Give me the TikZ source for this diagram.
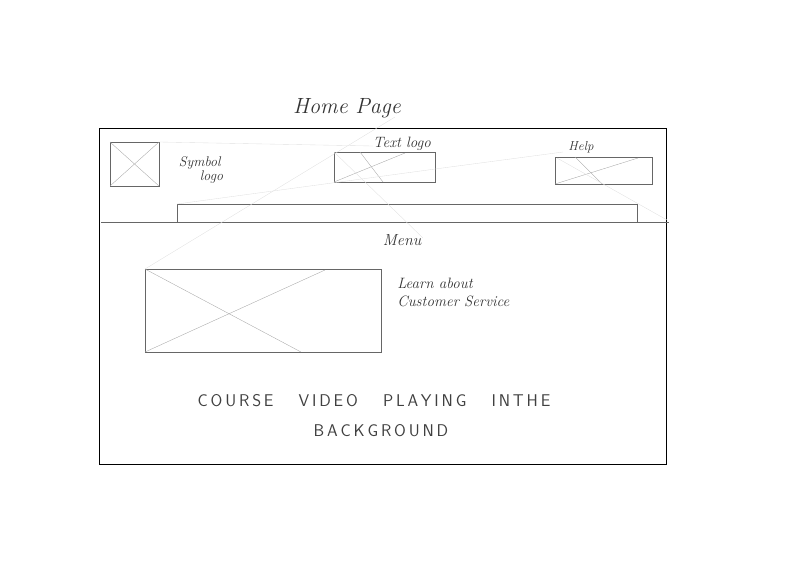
\documentclass[tikz,border=0pt]{standalone}
\usetikzlibrary{positioning}

\def\pagewidth{792}
\def\pageheight{576}

\begin{document}
\begin{tikzpicture}[x=1pt,y=-1pt,line width=0.5pt]
    \tikzstyle{frame}=[draw=black,line width=0.7pt]
    \tikzstyle{box}=[draw=black!60,inner sep=0pt,outer sep=0pt]
    \tikzstyle{cross}=[draw=black!35,line width=0.35pt]
    \tikzstyle{stray}=[draw=black!12,line width=0.35pt]
    \tikzstyle{hand}=[font=\fontsize{15}{17}\selectfont\itshape,text=black!80,inner sep=1pt]
    \tikzstyle{caps}=[font=\fontsize{17}{20}\selectfont\sffamily,text=black!75]

    \useasboundingbox (0,0) rectangle (\pagewidth,\pageheight);

    % Page frame and header separator
    \node[frame,inner sep=0pt,minimum width=567pt,minimum height=336pt,anchor=north west] (page) at (99,128) {};
    \coordinate (sepL) at (101,222);
    \coordinate (sepR) at (669,222);
    \draw[draw=black!60] (sepL) -- (sepR);

    % Title
    \node[hand,font=\fontsize{22}{22}\selectfont\itshape] (title) at (347,108) {Home Page};

    % Header boxes
    \node[box,minimum width=49pt,minimum height=44pt,anchor=north west] (sym) at (110,142) {};
    \node[box,minimum width=101pt,minimum height=30pt,anchor=north west] (txt) at (334,152) {};
    \node[box,minimum width=97pt,minimum height=27pt,anchor=north west] (help) at (555,157) {};
    \node[box,minimum width=460pt,minimum height=18pt,anchor=north west] (menu) at (177,204) {};

    % Header labels
    \node[hand,align=left,font=\fontsize{14}{14}\selectfont\itshape] (symlab) at (201,170) {Symbol\\\hspace{1.5em}logo};
    \node[hand] (txtlab) at (402,144) {Text logo};
    \node[hand,font=\fontsize{13}{13}\selectfont\itshape] (helplab) at (581,147) {Help};
    \node[hand,font=\fontsize{16}{16}\selectfont\itshape] (menulab) at (402,240) {Menu};

    % Video placeholder
    \node[box,minimum width=236pt,minimum height=83pt,anchor=north west] (video) at (145,269) {};
    \node[hand,align=left,anchor=west] (videolab) at (396,292) {Learn about\\[1pt]Customer Service};

    % Crosses in the placeholders
    \draw[cross] (sym.north west) -- (sym.south east);
    \draw[cross] (sym.south west) -- (sym.north east);
    \draw[cross] (txt.south west) -- (405,153);
    \draw[cross] (360,152) -- (383,182);
    \draw[cross] (help.south west) -- (638,158);
    \draw[cross] (575,157) -- (602,184);
    \draw[cross] (video.north west) -- (301,352);
    \draw[cross] (video.south west) -- (325,270);

    % Stray pencil strokes
    \draw[stray] (video.north west) -- (395,117);
    \draw[stray] (sym.north east) -- (373,146);
    \draw[stray] (menu.north west) -- (450,167) -- (563,152);
    \draw[stray] (txt.north west) -- (423,238);
    \draw[stray] (557,158) -- (667,220);

    % Background caption
    \node[caps] (cap1) at (374,401) {C\,O\,U\,R\,S\,E\quad\, V\,I\,D\,E\,O\quad\, P\,L\,A\,Y\,I\,N\,G\quad\, I\,N\,T\,H\,E};
    \node[caps] (cap2) at (381,431) {B\,A\,C\,K\,G\,R\,O\,U\,N\,D};
\end{tikzpicture}
\end{document}
